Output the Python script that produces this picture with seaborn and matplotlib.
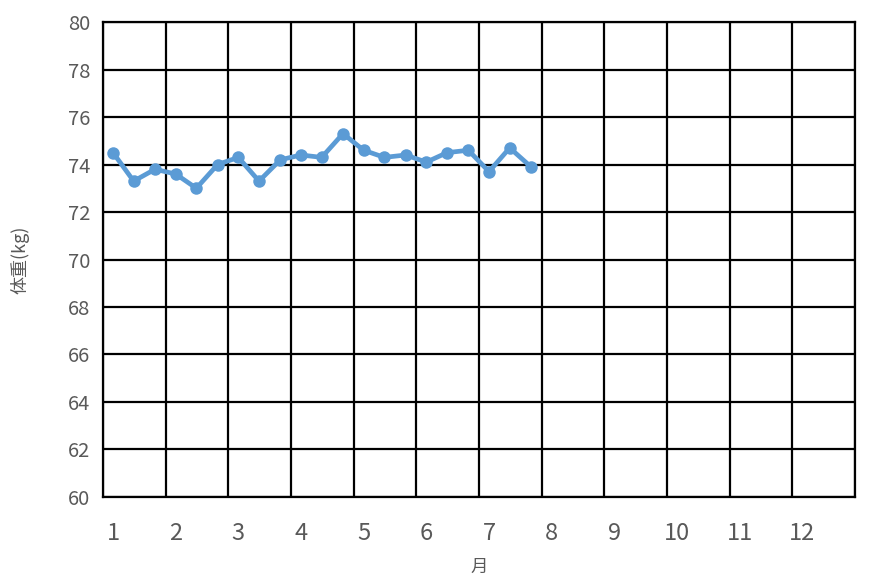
import seaborn as sns
import pandas as pd
import numpy as np
import matplotlib.pyplot as plt

# データ (月の位置, 体重)
month_pos = [1.0, 1.33, 1.67, 2.0, 2.33, 2.67, 3.0, 3.33, 3.67, 4.0, 4.33,
             4.67, 5.0, 5.33, 5.67, 6.0, 6.33, 6.67, 7.0, 7.33, 7.67]
weight = [74.5, 73.3, 73.8, 73.6, 73.0, 74.0, 74.3, 73.3, 74.2, 74.4, 74.3,
          75.3, 74.6, 74.3, 74.4, 74.1, 74.5, 74.6, 73.7, 74.7, 73.9]
month_labels = ['1', '2', '3', '4', '5', '6', '7', '8', '9', '10', '11', '12']
grid_x = [0.84, 1.84, 2.84, 3.84, 4.84, 5.84, 6.84, 7.84, 8.84, 9.84, 10.84, 11.84, 12.84]

df = pd.DataFrame({'月': month_pos, '体重': weight})

sns.set_style("white")
plt.rcParams['font.family'] = ['Noto Sans CJK JP', 'DejaVu Sans']

fig = plt.figure(figsize=(8.69, 5.84), dpi=100)
ax = fig.add_axes([0.1185, 0.149, 0.8654, 0.8133])

sns.lineplot(data=df, x='月', y='体重', ax=ax, color='#5B9BD5', linewidth=3.4,
             marker='o', markersize=9, markeredgewidth=0, zorder=3)

ax.set_xlim(0.84, 12.84)
ax.set_ylim(60, 80)
ax.set_yticks(range(60, 81, 2))
ax.set_xticks(range(1, 13))
ax.set_xticklabels(month_labels)
ax.set_xticks(grid_x, minor=True)

ax.grid(which='minor', axis='x', color='black', linewidth=1.6)
ax.grid(which='major', axis='y', color='black', linewidth=1.6)
ax.grid(which='major', axis='x', visible=False)

for s in ax.spines.values():
    s.set_color('black')
    s.set_linewidth(1.6)

ax.tick_params(axis='x', which='major', length=0, pad=18, labelsize=17, labelcolor='#595959')
ax.tick_params(axis='x', which='minor', length=0)
ax.tick_params(axis='y', length=0, pad=9, labelsize=14.5, labelcolor='#595959')

ax.set_xlabel('月', fontsize=12.5, color='#595959', labelpad=9)
ax.set_ylabel('体重(kg)', fontsize=13, color='#595959', labelpad=28)

fig.savefig('out.png', dpi=100)
